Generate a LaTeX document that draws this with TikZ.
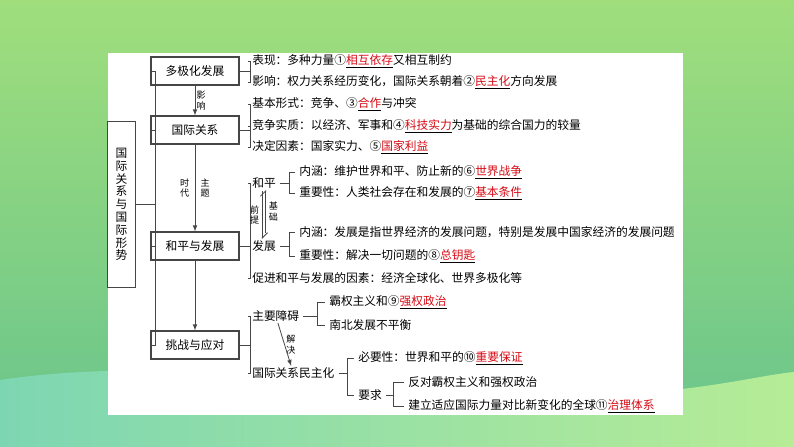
\documentclass[tikz,border=0pt]{standalone}
\usepackage{fontspec}
\setmainfont{Noto Sans CJK SC}
\usetikzlibrary{arrows.meta}
\definecolor{ansred}{RGB}{215,10,20}
\definecolor{linegray}{RGB}{70,70,70}
\newcommand\kw[1]{\underline{\textcolor{ansred}{#1}}}
\tikzset{
  topicbox/.style={draw=linegray,line width=.8pt,minimum width=66,minimum height=21,inner sep=0pt,font=\fontsize{8.8}{9.6}\selectfont},
  item/.style={anchor=west,inner xsep=3pt,inner ysep=1pt,font=\fontsize{8.8}{9.6}\selectfont},
  vlabel/.style={align=center,inner sep=1pt,font=\fontsize{6.8}{8}\selectfont},
  conn/.style={draw=linegray,line width=.6pt},
}
\begin{document}
\begin{tikzpicture}[x=0.75pt,y=-0.75pt]
    \useasboundingbox (0,0) rectangle (794,447);
    \shade[top color={rgb,255:red,160;green,222;blue,124},bottom color={rgb,255:red,104;green,196;blue,140}] (0,0) rectangle (794,447);
    \shade[left color={rgb,255:red,125;green,214;blue,178},right color={rgb,255:red,182;green,236;blue,150}] (0,380) .. controls (200,350) and (450,400) .. (600,395) .. controls (700,392) and (760,375) .. (794,372) -- (794,447) -- (0,447) -- cycle;
    \fill[white] (108,53) rectangle (683,415);

    \node[draw=linegray,line width=.8pt,minimum width=21,minimum height=125,inner sep=0pt,align=center,font=\fontsize{8.8}{9.6}\selectfont] (gjxs) at (121.5,204.5) {国\\际\\关\\系\\与\\国\\际\\形\\势};
    \node[topicbox] (duoji) at (195,71) {多极化发展};
    \node[topicbox] (guanxi) at (195,130) {国际关系};
    \node[topicbox] (heping) at (195,246) {和平与发展};
    \node[topicbox] (tiaozhan) at (195,345) {挑战与应对};
    \foreach \b in {duoji,guanxi,heping,tiaozhan}
      \draw[conn] (gjxs.east) -- ++(19,0) |- (\b.west);

    \draw[conn,-latex] (duoji) -- (guanxi) node[midway,right,vlabel]{影\\响};
    \draw[conn,-latex] (guanxi) -- (heping) node[midway,left,vlabel,xshift=-3]{时\\代} node[midway,right,vlabel,xshift=3]{主\\题};
    \draw[conn,-latex] (heping) -- (tiaozhan);

    \node[item] (bx) at (248,61) {表现：多种力量①\kw{相互依存}又相互制约};
    \node[item] (yx) at (248,82) {影响：权力关系经历变化，国际关系朝着②\kw{民主化}方向发展};
    \foreach \t in {bx,yx}
      \draw[conn] (duoji.east) -- ++(11,0) |- (\t.west);

    \node[item] (xs) at (248,104) {基本形式：竞争、③\kw{合作}与冲突};
    \node[item] (sz) at (248,126) {竞争实质：以经济、军事和④\kw{科技实力}为基础的综合国力的较量};
    \node[item] (ys) at (248,147) {决定因素：国家实力、⑤\kw{国家利益}};
    \foreach \t in {xs,sz,ys}
      \draw[conn] (guanxi.east) -- ++(11,0) |- (\t.west);

    \node[item] (hp) at (248,183) {和平};
    \node[item] (fz) at (248,246) {发展};
    \node[item] (cj) at (248,278) {促进和平与发展的因素：经济全球化、世界多极化等};
    \foreach \t in {hp,fz,cj}
      \draw[conn] (heping.east) -- ++(11,0) |- (\t.west);

    \node[item] (hpnh) at (295,172) {内涵：维护世界和平、防止新的⑥\kw{世界战争}};
    \node[item] (hpzy) at (295,193) {重要性：人类社会存在和发展的⑦\kw{基本条件}};
    \foreach \t in {hpnh,hpzy}
      \draw[conn] (hp.east) -- ++(9,0) |- (\t.west);
    \node[item] (fznh) at (295,232) {内涵：发展是指世界经济的发展问题，特别是发展中国家经济的发展问题};
    \node[item] (fzzy) at (295,256) {重要性：解决一切问题的⑧\kw{总钥匙}};
    \foreach \t in {fznh,fzzy}
      \draw[conn] (fz.east) -- ++(9,0) |- (\t.west);

    \draw[conn,-{Straight Barb[harpoon,length=4pt]}] ([xshift=-1.3]hp.south) ++(0,1) -- ([xshift=-1.3]fz.north) node[midway,left,vlabel,xshift=-1]{前\\提};
    \draw[conn,-{Straight Barb[harpoon,length=4pt]}] ([xshift=1.3]fz.north) ++(0,-6) -- ([xshift=1.3]hp.south) node[midway,right,vlabel,xshift=1]{基\\础};

    \node[item] (zyza) at (248,316) {主要障碍};
    \node[item] (mzh) at (248,373) {国际关系民主化};
    \foreach \t in {zyza,mzh}
      \draw[conn] (tiaozhan.east) -- ++(11,0) |- (\t.west);
    \draw[conn,-latex] (zyza) -- (mzh) node[midway,right,vlabel]{解\\决};

    \node[item] (bq) at (325,302) {霸权主义和⑨\kw{强权政治}};
    \node[item] (nb) at (325,325) {南北发展不平衡};
    \foreach \t in {bq,nb}
      \draw[conn] (zyza.east) -- ++(14,0) |- (\t.west);

    \node[item] (byx) at (354,358) {必要性：世界和平的⑩\kw{重要保证}};
    \node[item] (yq) at (354,395) {要求};
    \foreach \t in {byx,yq}
      \draw[conn] (mzh.east) -- ++(9,0) |- (\t.west);
    \node[item] (fd) at (404,382) {反对霸权主义和强权政治};
    \node[item] (jl) at (404,406) {建立适应国际力量对比新变化的全球⑪\kw{治理体系}};
    \foreach \t in {fd,jl}
      \draw[conn] (yq.east) -- ++(7,0) |- (\t.west);
\end{tikzpicture}
\end{document}
